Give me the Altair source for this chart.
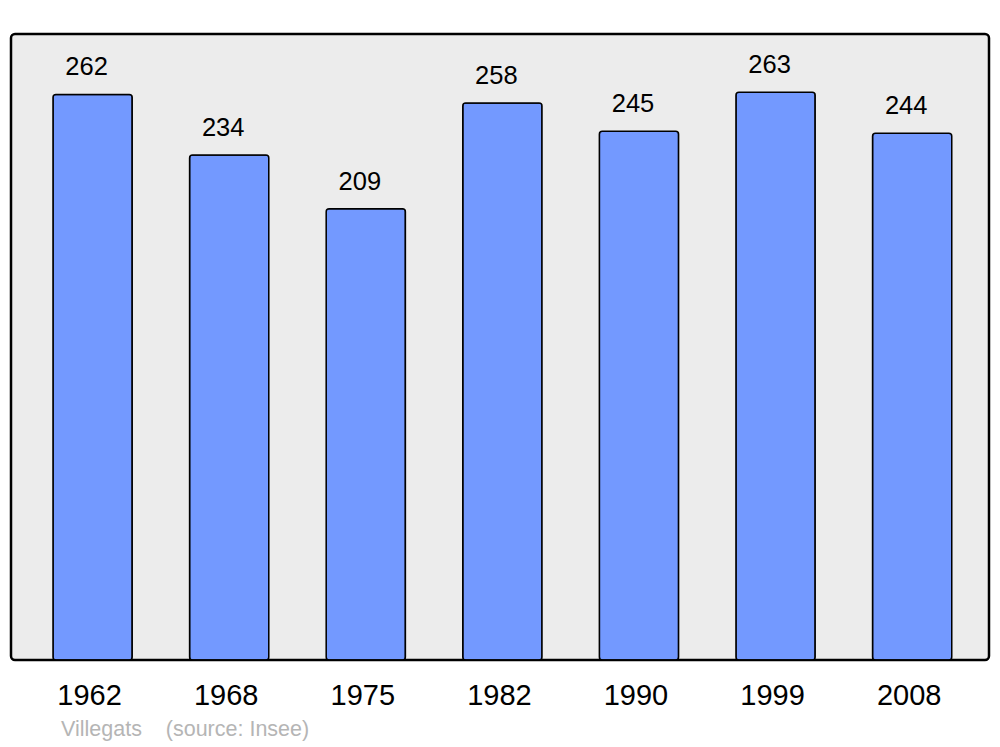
import altair as alt
import pandas as pd

years = ["1962", "1968", "1975", "1982", "1990", "1999", "2008"]
population = [262, 234, 209, 258, 245, 263, 244]
source_text = "Villegats\u00a0\u00a0\u00a0\u00a0(source: Insee)"

df = pd.DataFrame({"year": years, "pop": population})

x = alt.X("year:N", sort=years, title=None,
          scale=alt.Scale(paddingInner=0.42, paddingOuter=0.29, align=0.53),
          axis=alt.Axis(labelAngle=0, ticks=False, domain=False, grid=False,
                        labelFontSize=29, labelFont="Liberation Sans",
                        labelColor="black", labelPadding=21, labelOffset=-3))
y = alt.Y("pop:Q", title=None, axis=None,
          scale=alt.Scale(domain=[0, 290], nice=False, zero=True))

bars = alt.Chart(df).mark_bar(
    color="#7399ff", stroke="black", strokeWidth=1.5, cornerRadius=3
).encode(x=x, y=y)

labels = alt.Chart(df).mark_text(
    baseline="alphabetic", dy=-19, dx=-6, fontSize=25.5,
    font="Liberation Sans", color="black"
).encode(x=x, y=y, text="pop:Q")

source = alt.Chart(pd.DataFrame({"t": [source_text]})).mark_text(
    align="left", baseline="alphabetic", fontSize=21.5,
    font="Liberation Sans", color="#b5b5b5"
).encode(x=alt.value(50), y=alt.value(702), text="t:N")

chart = alt.layer(bars, labels, source).properties(
    width=978, height=626,
    background="white",
    autosize=alt.AutoSizeParams(type="none"),
    padding={"left": 3, "top": 26, "right": 3, "bottom": 81},
).configure_view(
    fill="#ececec", stroke="black", strokeWidth=2.5, cornerRadius=4
)

chart.save("out.html", embed_options={"renderer": "svg", "actions": False})
